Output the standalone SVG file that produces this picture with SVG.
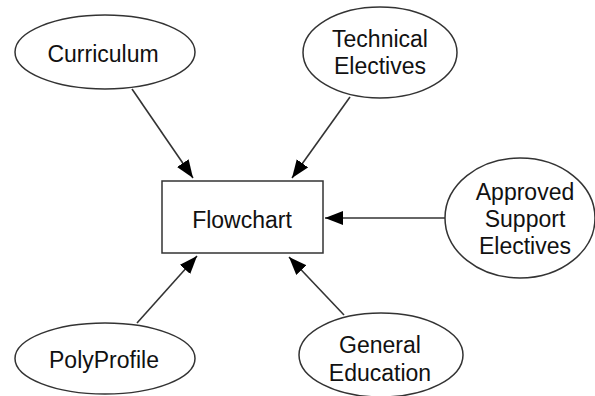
<svg xmlns="http://www.w3.org/2000/svg" width="595" height="396" viewBox="0 0 595 396">
<style>
.n{fill:#fff;stroke:#333;stroke-width:1.5}
.t{font-family:"Liberation Sans",Arial,sans-serif;font-size:23px;fill:#111;text-anchor:middle}
.e{stroke:#333;stroke-width:1.6;fill:none;marker-end:url(#ah)}
</style>
<defs>
<marker id="ah" markerUnits="userSpaceOnUse" markerWidth="20" markerHeight="16" refX="18" refY="7" orient="auto">
<path d="M0,0 L18,7 L0,14 z" fill="#000"/>
</marker>
</defs>
<rect width="595" height="396" fill="#fff"/>
<g id="edges">
<line class="e" x1="132" y1="89" x2="193" y2="178"/>
<line class="e" x1="350" y1="97" x2="292" y2="178"/>
<line class="e" x1="445" y1="218" x2="325" y2="218"/>
<line class="e" x1="137" y1="323" x2="197" y2="256"/>
<line class="e" x1="344" y1="315" x2="289" y2="257"/>
</g>
<g id="curriculum">
<ellipse class="n" cx="105" cy="52" rx="90" ry="37"/>
<text class="t" x="103" y="62">Curriculum</text>
</g>
<g id="technical">
<ellipse class="n" cx="380" cy="52.5" rx="77" ry="45.5"/>
<text class="t" x="380" y="47">Technical</text>
<text class="t" x="380" y="74">Electives</text>
</g>
<g id="flowchart">
<rect class="n" x="162" y="181" width="161" height="72"/>
<text class="t" x="242" y="228">Flowchart</text>
</g>
<g id="approved">
<ellipse class="n" cx="520" cy="218" rx="75" ry="60"/>
<text class="t" x="525" y="200">Approved</text>
<text class="t" x="525" y="227">Support</text>
<text class="t" x="525" y="254">Electives</text>
</g>
<g id="polyprofile">
<ellipse class="n" cx="105" cy="358.5" rx="90" ry="35.5"/>
<text class="t" x="104" y="368">PolyProfile</text>
</g>
<g id="geneducation">
<ellipse class="n" cx="381" cy="355" rx="82" ry="42"/>
<text class="t" x="380" y="353">General</text>
<text class="t" x="380" y="381">Education</text>
</g>
</svg>
